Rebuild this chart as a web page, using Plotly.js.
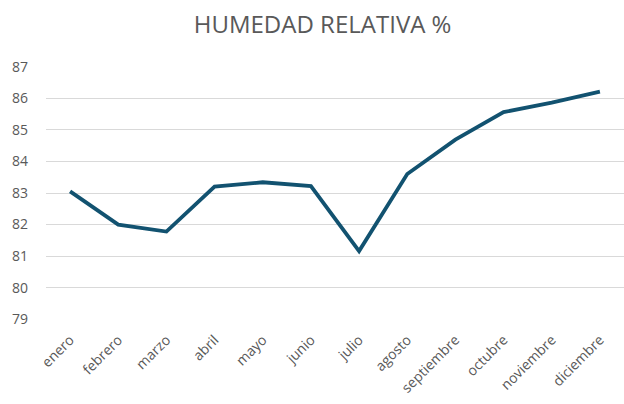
<!DOCTYPE html>
<html><head><meta charset="utf-8">
<script src="https://cdn.plot.ly/plotly-3.0.1.min.js"></script>
<style>html,body{margin:0;padding:0;background:#fff}</style>
</head><body>
<div id="chart" style="width:624px;height:404px"></div>
<script>
const months = ["enero","febrero","marzo","abril","mayo","junio","julio","agosto","septiembre","octubre","noviembre","diciembre"];
const humidity = [83.05, 82.0, 81.78, 83.2, 83.34, 83.22, 81.16, 83.6, 84.69, 85.56, 85.86, 86.21];
const yTicks = [79,80,81,82,83,84,85,86,87];

const font = "Open Sans, Liberation Sans, sans-serif";
Plotly.newPlot("chart", [{
  x: months, y: humidity, type: "scatter", mode: "lines",
  line: {color: "#125270", width: 3.8}, hoverinfo: "skip"
}], {
  width: 624, height: 404,
  margin: {l: 46, r: 0, t: 66, b: 84},
  paper_bgcolor: "#fff", plot_bgcolor: "#fff",
  title: {text: "HUMEDAD RELATIVA %", x: 0.517, xanchor: "center", y: 0.94, yanchor: "middle",
          font: {family: font, size: 24, color: "#595959"}},
  showlegend: false,
  xaxis: {type: "category", tickangle: -45, showgrid: false, zeroline: false, showline: false,
          ticks: "", ticklabelstandoff: 8, tickfont: {family: font, size: 14, color: "#595959"}, range: [-0.5, 11.5]},
  yaxis: {range: [78.98, 87.02], tickvals: yTicks, showgrid: true, gridcolor: "#d9d9d9", gridwidth: 1,
          zeroline: false, showline: false, ticks: "", ticklabelstandoff: 17,
          tickfont: {family: font, size: 14, color: "#595959"}}
}, {staticPlot: true});
</script>
</body></html>
